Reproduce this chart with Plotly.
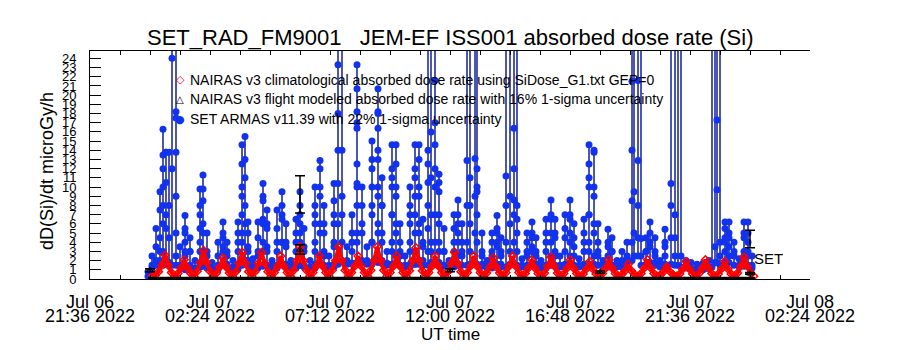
import plotly.graph_objects as go
import pandas as pd

BASE = pd.Timestamp("2022-07-06 21:36")
FONT = "Liberation Sans"

# ---------------- data (hours after 2022-07-06 21:36 UT) ----------------
# SET ARMAS absorbed dose rate: each column = burst of 1-min samples at ~one time
set_col_hours = [
    2.32, 2.48, 2.64, 2.80, 2.92, 3.04, 3.16, 3.28, 3.44, 3.60,
    3.80, 4.00, 4.20, 4.40, 4.52, 4.68, 4.88, 5.12, 5.32, 5.48,
    5.72, 5.92, 6.08, 6.20, 6.32, 6.52, 6.72, 6.92, 7.08, 7.28,
    7.48, 7.68, 7.84, 8.04, 8.24, 8.40, 8.56, 8.80, 9.00, 9.20,
    9.36, 9.56, 9.76, 9.92, 10.08, 10.28, 10.48, 10.68, 10.88, 11.08,
    11.28, 11.52, 11.68, 11.88, 12.08, 12.24, 12.40, 12.60, 12.80, 13.00,
    13.16, 13.32, 13.52, 13.64, 13.80, 13.96, 14.16, 14.36, 14.56, 14.72,
    14.88, 15.08, 15.20, 15.40, 15.48, 15.68, 15.88, 16.08, 16.28, 16.44,
    16.64, 16.80, 16.96, 17.08, 17.28, 17.48, 17.68, 17.84, 18.04, 18.24,
    18.44, 18.60, 18.80, 19.00, 19.20, 19.36, 19.56, 19.76, 19.96, 20.16,
    20.32, 20.52, 20.72, 20.88, 21.08, 21.28, 21.48, 21.68, 21.76, 21.92,
    22.04, 22.24, 22.40, 22.60, 22.80, 23.00, 23.24, 23.40, 23.52, 23.64,
    23.84, 24.04, 24.28, 24.52, 24.76, 24.88, 25.00, 25.08, 25.20, 25.40,
    25.56, 25.76, 25.96, 26.16, 26.32, 26.48,
]
set_col_values = [
    [0.3, 0.8], [0.8, 1.5, 2.5, 1.2], [1.5, 3.5, 5.5, 2.0], [2.0, 4.5, 7.5, 9.5, 3.0, 1.5],
    [1.5, 6.0, 10.0, 13.5, 16.3, 12.0, 8.0, 3.0], [2.0, 7.0, 13.8, 13.8, 10.5, 5.5, 1.8],
    [1.8, 4.5, 13.8, 8.0, 1.5], [1.5, 12.0, 24.0, 30.0],
    [30.0, 18.2, 17.5, 13.8, 9.0, 5.0, 2.5, 1.5], [1.5, 3.5, 1.2],
    [1.0, 2.5, 4.0, 5.5, 6.9, 5.0, 3.0, 1.5], [1.5, 3.0, 4.5, 3.0, 1.2], [1.2, 2.0, 1.0],
    [1.3, 3.0, 5.5, 8.0, 9.8, 7.0, 4.0, 1.6], [1.6, 5.0, 8.5, 11.3, 9.8, 6.0, 3.0, 1.4],
    [1.4, 3.0, 5.0, 2.5, 1.2], [1.2, 1.8, 1.0], [1.0, 2.5, 4.0, 1.5],
    [1.5, 3.0, 4.5, 6.2, 5.0, 3.5, 1.6], [1.6, 3.0, 4.0, 2.5, 1.3], [1.3, 2.0, 1.1],
    [1.1, 3.0, 5.0, 6.2, 4.0, 1.5], [1.5, 4.0, 7.0, 10.0, 12.5, 14.6, 9.0, 5.0, 2.0],
    [2.0, 8.0, 13.0, 15.5, 11.0, 6.0, 2.0], [2.0, 3.5, 5.0, 6.2, 3.0, 1.5], [1.5, 2.2, 1.2],
    [1.2, 2.5, 4.5, 6.2, 3.0, 1.4], [1.4, 4.0, 6.5, 8.5, 10.4, 9.0, 6.0, 3.0, 1.5],
    [1.5, 3.5, 5.5, 7.5, 6.0, 3.0, 1.5], [1.5, 2.0, 1.2],
    [1.2, 3.0, 5.5, 7.5, 4.0, 1.5], [1.5, 4.0, 6.5, 8.0, 9.5, 7.0, 4.0, 1.6],
    [1.6, 3.5, 6.0, 4.0, 1.4], [1.4, 2.0, 1.2], [1.2, 3.0, 5.0, 6.5, 4.0, 1.5],
    [1.5, 4.0, 6.0, 8.0, 9.5, 7.0, 5.0, 3.0, 1.5], [1.5, 3.5, 5.5, 3.0, 1.3], [1.3, 2.0, 1.2],
    [1.2, 3.0, 6.0, 8.0, 10.0, 7.0, 4.0, 1.6], [1.6, 5.0, 9.0, 12.0, 12.9, 10.0, 6.0, 2.5],
    [2.5, 5.0, 8.0, 6.0, 3.0, 1.5], [1.5, 2.5, 1.3],
    [1.3, 3.5, 6.0, 8.5, 10.4, 7.0, 4.0, 1.6], [1.6, 6.0, 10.4, 14.0, 18.0, 23.3, 30.0],
    [30.0, 14.0, 9.0, 7.0, 4.0, 2.0], [2.0, 3.5, 1.6], [1.6, 3.0, 5.0, 7.0, 4.0, 1.7],
    [1.7, 5.0, 8.0, 10.4, 12.5, 16.4, 18.2, 20.7, 23.3, 17.0, 10.0, 4.0, 1.8],
    [1.8, 6.0, 10.0, 8.0, 5.0, 2.0], [2.0, 3.5, 1.6],
    [1.6, 4.0, 7.0, 10.0, 13.0, 15.0, 12.0, 8.0, 4.0, 1.8],
    [1.8, 6.0, 10.0, 13.0, 16.4, 18.2, 20.7, 18.0, 14.0, 9.0, 5.0, 2.0],
    [2.0, 5.0, 8.0, 11.0, 8.0, 4.0, 1.7], [1.7, 3.0, 1.5],
    [1.5, 4.0, 7.0, 10.0, 12.0, 14.6, 11.0, 7.0, 3.0, 1.6],
    [1.6, 5.0, 9.0, 12.5, 14.6, 10.0, 6.0, 2.5], [2.5, 4.0, 6.0, 3.0, 1.5], [1.5, 2.5, 1.3],
    [1.3, 3.0, 6.0, 8.0, 10.0, 7.0, 4.0, 1.6], [1.6, 5.0, 9.0, 12.0, 14.6, 11.0, 7.0, 3.0, 1.6],
    [1.6, 6.0, 10.0, 13.0, 14.6, 9.0, 5.0, 2.0], [2.0, 4.0, 6.5, 3.5, 1.5],
    [1.5, 3.0, 5.5, 8.0, 10.5, 12.5, 14.0, 30.0], [30.0, 16.0, 11.0, 7.0, 4.0, 1.8, 3.0, 30.0],
    [30.0, 21.6, 17.0, 14.6, 12.0, 10.0, 7.0, 4.0, 1.8],
    [1.8, 4.0, 7.0, 10.5, 11.4, 9.5, 6.0, 3.0, 1.5], [1.5, 3.0, 5.5, 3.0, 1.4], [1.4, 2.0, 1.3],
    [1.3, 3.0, 5.5, 7.0, 4.0, 1.5], [1.5, 4.0, 6.0, 8.6, 7.0, 5.0, 2.5],
    [2.5, 4.0, 6.0, 3.0, 1.5], [1.5, 4.0, 8.0, 12.9, 30.0], [30.0, 11.0, 8.0, 6.0, 3.0, 1.6],
    [1.6, 5.0, 9.0, 13.1, 30.0], [30.0, 12.0, 10.0, 9.5, 7.0, 4.0, 1.6],
    [1.6, 3.0, 5.0, 2.5, 1.4], [1.4, 2.0, 1.2], [1.2, 2.5, 4.0, 5.0, 3.0, 1.5],
    [1.5, 3.5, 5.0, 6.9, 5.5, 4.0, 1.6], [1.6, 3.0, 4.5, 2.5, 1.3],
    [1.3, 4.0, 8.0, 11.2, 30.0], [30.0, 9.0, 6.0, 3.0, 1.6],
    [1.6, 4.0, 7.0, 8.6, 12.0, 16.4, 30.0], [30.0, 8.0, 6.5, 5.0, 3.0, 1.5], [1.5, 2.2, 1.3],
    [1.3, 2.5, 4.0, 5.0, 3.0, 1.5], [1.5, 3.0, 4.5, 6.2, 5.0, 3.5, 1.6],
    [1.6, 3.0, 4.5, 2.5, 1.4], [1.4, 2.0, 1.2], [1.2, 3.0, 5.0, 6.5, 4.0, 1.5],
    [1.5, 4.0, 6.5, 8.6, 7.0, 5.0, 2.5], [2.5, 4.5, 6.5, 5.0, 3.0, 1.5], [1.5, 2.5, 1.3],
    [1.3, 3.0, 5.5, 7.0, 4.5, 1.6], [1.6, 4.0, 6.5, 8.6, 7.0, 5.0, 2.5],
    [2.5, 4.5, 6.0, 3.5, 1.5], [1.5, 2.2, 1.3], [1.3, 3.0, 5.0, 6.5, 4.0, 1.6],
    [1.6, 4.0, 7.0, 10.0, 12.5, 14.6, 11.0, 7.0, 3.0, 1.6],
    [1.6, 5.0, 9.0, 13.8, 14.0, 10.0, 6.0, 2.5], [2.5, 4.0, 6.0, 3.0, 1.5], [1.5, 2.0, 1.3],
    [1.3, 2.5, 4.0, 5.4, 3.5, 1.5], [1.5, 3.0, 4.5, 3.0, 1.5], [1.5, 2.0, 1.3],
    [1.3, 2.0, 3.0, 1.8], [1.8, 2.5, 4.0, 2.0], [2.0, 4.0, 8.5, 14.0, 21.5, 30.0],
    [30.0, 9.5, 5.0, 2.5], [2.5, 4.5, 8.0, 12.9, 21.6, 30.0], [30.0, 4.4, 2.5, 1.5],
    [1.5, 3.0, 4.5, 3.0, 1.6], [1.6, 3.5, 5.0, 6.2, 4.0, 1.8], [1.8, 3.0, 4.5, 2.5, 1.5],
    [1.5, 2.0, 1.3], [1.3, 2.5, 4.0, 5.4, 3.5, 1.6], [1.6, 4.5, 8.0, 10.4, 30.0],
    [30.0, 7.0, 4.5, 2.5, 1.5], [1.5, 30.0], [30.0, 2.5, 1.3],
    [1.3, 2.0, 1.2], [1.2, 1.8, 1.1], [1.1, 1.6, 1.0], [1.0, 1.7, 1.1], [1.1, 2.0, 1.3],
    [1.3, 30.0], [30.0, 3.5, 1.8], [1.8, 9.7, 17.3, 30.0], [30.0, 4.0, 2.5, 1.5],
    [1.5, 3.0, 4.5, 5.5, 6.2, 4.0, 1.8], [1.8, 3.5, 5.0, 6.2, 4.5, 2.5], [2.5, 4.0, 3.0, 1.5],
    [1.5, 2.2, 1.4], [1.4, 3.0, 5.0, 6.2, 4.5, 2.5], [2.5, 4.0, 6.2, 5.0, 3.0, 1.5],
    [1.5, 2.5, 1.2],
]

# NAIRAS v3 climatological dose rate (regular sampling)
nairas_clim_start_h = 2.485
nairas_clim_step_h = 0.12867
nairas_clim_values = [
    0.3, 0.4, 0.8, 1.5,
    2.6, 1.5, 0.7, 0.3, 0.6, 1.2,
    2.1, 1.2, 0.6, 0.3, 0.85, 1.8,
    3.1, 1.8, 0.85, 0.3, 0.65, 1.3,
    2.3, 1.3, 0.65, 0.3, 0.8, 1.7,
    2.9, 1.7, 0.8, 0.3, 0.8, 1.7,
    2.9, 1.7, 0.8, 0.3, 0.7, 1.4,
    2.5, 1.4, 0.7, 0.3, 0.95, 2.0,
    3.5, 2.0, 0.95, 0.3, 0.7, 1.4,
    2.5, 1.4, 0.7, 0.3, 0.95, 2.0,
    3.5, 2.0, 0.95, 0.3, 0.7, 1.4,
    2.5, 1.4, 0.7, 0.3, 0.95, 2.0,
    3.5, 2.0, 0.95, 0.3, 0.7, 1.4,
    2.5, 1.4, 0.7, 0.3, 0.9, 2.0,
    3.4, 2.0, 0.9, 0.3, 0.7, 1.4,
    2.5, 1.4, 0.7, 0.3, 0.8, 1.7,
    2.9, 1.7, 0.8, 0.3, 0.7, 1.4,
    2.5, 1.4, 0.7, 0.3, 0.65, 1.3,
    2.3, 1.3, 0.65, 0.3, 0.7, 1.4,
    2.5, 1.4, 0.7, 0.3, 0.6, 1.2,
    2.1, 1.2, 0.6, 0.3, 0.65, 1.4,
    2.4, 1.4, 0.65, 0.3, 0.6, 1.2,
    2.1, 1.2, 0.6, 0.3, 0.55, 1.1,
    1.9, 1.1, 0.55, 0.3, 0.6, 1.2,
    2.1, 1.2, 0.6, 0.3, 0.5, 0.9,
    1.6, 0.9, 0.5, 0.3, 0.6, 1.2,
    2.1, 1.2, 0.6, 0.3, 0.45, 0.8,
    1.35, 0.8, 0.45, 0.3, 0.55, 1.1,
    1.9, 1.1, 0.55, 0.3, 0.6, 1.2,
    2.1, 1.2, 0.6, 0.3, 0.55, 1.1,
    1.9, 1.1, 0.55, 0.3, 0.65, 1.4,
    2.4, 1.4, 0.65, 0.3,
]

# NAIRAS v3 flight modeled dose rate (16% 1-sigma)
flight_hours = [2.4, 8.4, 14.4, 20.4, 26.4]
flight_values = [0.95, 3.2, 0.95, 0.75, 0.6]
flight_sigma = 0.16
flight_base_hours = [2.32, 26.6]
flight_base_values = [0.08, 0.08]

# SET ARMAS uncertainty markers (22% 1-sigma)
set_err_hours = [8.4, 26.4]
set_err_values = [9.2, 4.35]
set_sigma = 0.22

# axes
x_range_hours = [0.0, 28.8]
y_range = [0, 24.8]
x_tick_times = [
    "2022-07-06 21:36", "2022-07-06 22:48", "2022-07-07 00:00", "2022-07-07 01:12",
    "2022-07-07 02:24", "2022-07-07 03:36", "2022-07-07 04:48", "2022-07-07 06:00",
    "2022-07-07 07:12", "2022-07-07 08:24", "2022-07-07 09:36", "2022-07-07 10:48",
    "2022-07-07 12:00", "2022-07-07 13:12", "2022-07-07 14:24", "2022-07-07 15:36",
    "2022-07-07 16:48", "2022-07-07 18:00", "2022-07-07 19:12", "2022-07-07 20:24",
    "2022-07-07 21:36", "2022-07-07 22:48", "2022-07-08 00:00", "2022-07-08 01:12",
    "2022-07-08 02:24",
]
x_label_times = ["2022-07-06 21:36", "2022-07-07 02:24", "2022-07-07 07:12",
                 "2022-07-07 12:00", "2022-07-07 16:48", "2022-07-07 21:36",
                 "2022-07-08 02:24"]
x_day_labels = ["Jul 06", "Jul 07", "Jul 07", "Jul 07", "Jul 07", "Jul 07", "Jul 08"]
x_time_labels = ["21:36 2022", "02:24 2022", "07:12 2022", "12:00 2022",
                 "16:48 2022", "21:36 2022", "02:24 2022"]
y_tick_values = list(range(0, 25))
y_tick_labels = [str(v) for v in y_tick_values]

title_text = "SET_RAD_FM9001   JEM-EF ISS001 absorbed dose rate (Si)"
legend_texts = [
    "NAIRAS v3 climatological absorbed dose rate using SiDose_G1.txt GEP=0",
    "NAIRAS v3 flight modeled absorbed dose rate with 16% 1-sigma uncertainty",
    "SET ARMAS v11.39 with 22% 1-sigma uncertainty",
]

# ---------------- build ----------------
def t(h):
    return BASE + pd.Timedelta(hours=h)

bx, by = [], []
for h, vals in zip(set_col_hours, set_col_values):
    for v in vals:
        bx.append(t(h))
        by.append(v)

rx = [t(nairas_clim_start_h + i * nairas_clim_step_h) for i in range(len(nairas_clim_values))]

BLUE_LINE = "#001090"
BLUE_DOT = "#1232ee"

fig = go.Figure()
fig.add_trace(go.Scatter(
    x=bx, y=by, mode="lines+markers",
    line=dict(color=BLUE_LINE, width=1.4),
    marker=dict(symbol="circle", size=7, color=BLUE_DOT),
))
fig.add_trace(go.Scatter(
    x=rx, y=nairas_clim_values, mode="lines+markers",
    line=dict(color="#ff0000", width=4),
    marker=dict(symbol="diamond-open", size=6, color="#ff0000", line=dict(width=1.5)),
))
# baseline of flight-modeled series drawn on the overlay x axis (same range)
fig.add_trace(go.Scatter(
    x=[t(h) for h in flight_base_hours], y=flight_base_values, mode="lines",
    line=dict(color="black", width=3), xaxis="x2",
))
fig.add_trace(go.Scatter(
    x=[t(h) for h in flight_hours], y=flight_values, mode="markers",
    marker=dict(symbol="triangle-up-open", size=6, color="black"),
    error_y=dict(type="data", array=[v * flight_sigma for v in flight_values],
                 color="black", thickness=1.5, width=5),
))
fig.add_trace(go.Scatter(
    x=[t(h) for h in set_err_hours], y=set_err_values, mode="markers",
    marker=dict(size=2, color="rgba(0,0,0,0)"),
    error_y=dict(type="data", array=[v * set_sigma for v in set_err_values],
                 color="black", thickness=1.5, width=5),
))

x_rng = [t(x_range_hours[0]), t(x_range_hours[1])]
day_text = []
for tt in x_tick_times:
    day_text.append(x_day_labels[x_label_times.index(tt)] if tt in x_label_times else "")

fig.update_layout(
    width=900, height=350,
    margin=dict(l=90, r=90, t=51, b=71),
    paper_bgcolor="white", plot_bgcolor="white",
    showlegend=False,
    font=dict(family=FONT, color="black"),
    xaxis=dict(
        type="date", range=x_rng, tickmode="array", tickvals=x_tick_times, ticktext=day_text,
        ticks="inside", ticklen=4, tickcolor="black", tickwidth=1,
        showline=True, linecolor="black", linewidth=1, mirror="ticks",
        showgrid=False, zeroline=False, tickfont=dict(size=18, color="black"),
        ticklabelstandoff=6,
    ),
    xaxis2=dict(
        type="date", range=x_rng, overlaying="x", side="bottom", anchor="y",
        tickmode="array", tickvals=x_label_times, ticktext=x_time_labels,
        ticks="", showline=False, showgrid=False, zeroline=False,
        tickfont=dict(size=18, color="black"), ticklabelstandoff=24,
    ),
    yaxis=dict(
        range=y_range, tickmode="array", tickvals=y_tick_values, ticktext=y_tick_labels,
        ticks="inside", ticklen=11, tickcolor="black", tickwidth=1,
        showline=True, linecolor="black", linewidth=1, mirror=False,
        showgrid=False, zeroline=False, tickfont=dict(size=13, color="black"),
        ticklabelstandoff=10,
    ),
    yaxis2=dict(
        range=y_range, overlaying="y", side="right", anchor="x",
        tickmode="array", tickvals=y_tick_values, showticklabels=False,
        ticks="inside", ticklen=14, tickcolor="black", tickwidth=1,
        showline=True, linecolor="black", linewidth=1,
        showgrid=False, zeroline=False,
    ),
)

ann = []
ann.append(dict(text=title_text, x=0.5, y=(279 - 38) / 228, xref="paper", yref="paper",
                xanchor="center", yanchor="middle", showarrow=False,
                font=dict(size=22, family=FONT, color="black")))
ann.append(dict(text="dD(Si)/dt microGy/h", x=(47 - 90) / 720, y=(279 - 171) / 228,
                xref="paper", yref="paper", textangle=-90, xanchor="center",
                yanchor="middle", showarrow=False, font=dict(size=18, family=FONT)))
ann.append(dict(text="UT time", x=0.5, y=(279 - 334) / 228, xref="paper", yref="paper",
                xanchor="center", yanchor="middle", showarrow=False,
                font=dict(size=17, family=FONT)))
leg_y = [(279 - 80) / 228, (279 - 99) / 228, (279 - 119) / 228]
leg_sym = [("\u25c7", "#ff0000", 11), ("\u25b3", "black", 10), ("\u25cf", BLUE_DOT, 11)]
for txt, yy, (sym, col, sz) in zip(legend_texts, leg_y, leg_sym):
    ann.append(dict(text=txt, x=(188 - 90) / 720, y=yy, xref="paper", yref="paper",
                    xanchor="left", yanchor="middle", showarrow=False,
                    font=dict(size=14, family=FONT, color="black")))
    ann.append(dict(text=sym, x=(180 - 90) / 720, y=yy, xref="paper", yref="paper",
                    xanchor="center", yanchor="middle", showarrow=False,
                    font=dict(size=sz, family="DejaVu Sans", color=col)))
ann.append(dict(text="SET", x=(752 - 90) / 720, y=(279 - 258) / 228, xref="paper",
                yref="paper", xanchor="left", yanchor="middle", showarrow=False,
                font=dict(size=15, family=FONT, color="black")))
fig.update_layout(annotations=ann)

fig.write_html("out.html")
